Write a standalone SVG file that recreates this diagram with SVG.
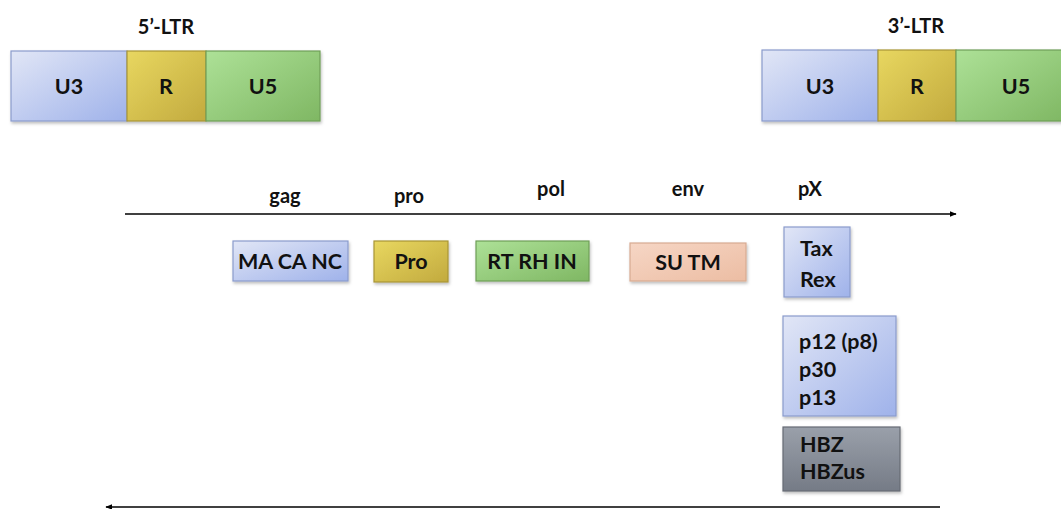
<svg xmlns="http://www.w3.org/2000/svg" width="1061" height="509" viewBox="0 0 1061 509">
<defs>
<linearGradient id="gBlue" x1="0" y1="0" x2="1" y2="1"><stop offset="0" stop-color="#e1e6f6"/><stop offset="1" stop-color="#9fb2ea"/></linearGradient>
<linearGradient id="gYel" x1="0" y1="0" x2="1" y2="1"><stop offset="0" stop-color="#e8d760"/><stop offset="1" stop-color="#c2aa3e"/></linearGradient>
<linearGradient id="gGrn" x1="0" y1="0" x2="1" y2="1"><stop offset="0" stop-color="#ade197"/><stop offset="1" stop-color="#7fb763"/></linearGradient>
<linearGradient id="gPeach" x1="0" y1="0" x2="1" y2="1"><stop offset="0" stop-color="#f6d6c5"/><stop offset="1" stop-color="#ecbda3"/></linearGradient>
<linearGradient id="gGray" x1="0" y1="0" x2="0" y2="1"><stop offset="0" stop-color="#9aa0aa"/><stop offset="1" stop-color="#757b86"/></linearGradient>
<marker id="arr" viewBox="0 0 10 10" refX="9" refY="5" markerWidth="7" markerHeight="7" orient="auto-start-reverse" markerUnits="userSpaceOnUse"><path d="M0,1 L10,5 L0,9 z" fill="#000"/></marker>
<filter id="sh" x="-10%" y="-10%" width="125%" height="130%"><feDropShadow dx="1" dy="2" stdDeviation="1.5" flood-color="#000" flood-opacity="0.25"/></filter>
</defs>
<style>
text{font-family:Lato,"Open Sans","Liberation Sans",sans-serif;font-weight:bold;fill:#111;font-size:21.5px}
.lbl{font-size:20px}
.b{stroke-width:1.2}
.blue{fill:url(#gBlue);stroke:#8a9bcc}
.yel{fill:url(#gYel);stroke:#a89536}
.grn{fill:url(#gGrn);stroke:#6f9e58}
.peach{fill:url(#gPeach);stroke:#d8ab92}
.gray{fill:url(#gGray);stroke:#666b74}
.line{stroke:#000;stroke-width:1.6;fill:none}
</style>

<g id="ltr5">
<text x="166" y="34" text-anchor="middle" class="lbl">5’-LTR</text>
<g filter="url(#sh)">
<rect x="11" y="51" width="116" height="70" class="blue b"/>
<rect x="127" y="51" width="79" height="70" class="yel b"/>
<rect x="206" y="51" width="114" height="70" class="grn b"/>
</g>
<text x="69" y="94" text-anchor="middle">U3</text>
<text x="166" y="94" text-anchor="middle">R</text>
<text x="263" y="94" text-anchor="middle">U5</text>
</g>

<g id="ltr3">
<text x="916" y="33" text-anchor="middle" class="lbl">3’-LTR</text>
<g filter="url(#sh)">
<rect x="762" y="50" width="116" height="71" class="blue b"/>
<rect x="878" y="50" width="78" height="71" class="yel b"/>
<rect x="956" y="50" width="110" height="71" class="grn b"/>
</g>
<text x="820" y="94" text-anchor="middle">U3</text>
<text x="917" y="94" text-anchor="middle">R</text>
<text x="1016" y="94" text-anchor="middle">U5</text>
</g>

<g id="connectors">
<line x1="125" y1="214" x2="956" y2="214" class="line" marker-end="url(#arr)"/>
<line x1="940" y1="507" x2="106" y2="507" class="line" marker-end="url(#arr)"/>
</g>

<g id="gene-labels">
<text x="285" y="203" text-anchor="middle" class="lbl">gag</text>
<text x="409" y="203" text-anchor="middle" class="lbl">pro</text>
<text x="551" y="196" text-anchor="middle" class="lbl">pol</text>
<text x="688" y="196" text-anchor="middle" class="lbl">env</text>
<text x="810" y="196" text-anchor="middle" class="lbl">pX</text>
</g>

<g id="gag">
<rect x="233" y="241" width="115" height="40" class="blue b" filter="url(#sh)"/>
<text x="290" y="269" text-anchor="middle">MA CA NC</text>
</g>
<g id="pro">
<rect x="374" y="241" width="74" height="41" class="yel b" filter="url(#sh)"/>
<text x="411" y="269" text-anchor="middle">Pro</text>
</g>
<g id="pol">
<rect x="476" y="241" width="113" height="40" class="grn b" filter="url(#sh)"/>
<text x="532" y="269" text-anchor="middle">RT RH IN</text>
</g>
<g id="env">
<rect x="630" y="243" width="116" height="38" class="peach b" filter="url(#sh)"/>
<text x="688" y="270" text-anchor="middle">SU TM</text>
</g>
<g id="taxrex">
<rect x="784" y="227" width="66" height="70" class="blue b" filter="url(#sh)"/>
<text x="800" y="256">Tax</text>
<text x="800" y="287">Rex</text>
</g>
<g id="p12">
<rect x="783" y="316" width="113" height="100" class="blue b" filter="url(#sh)"/>
<text x="799" y="349">p12 (p8)</text>
<text x="799" y="377">p30</text>
<text x="799" y="405">p13</text>
</g>
<g id="hbz">
<rect x="783" y="427" width="117" height="64" class="gray b" filter="url(#sh)"/>
<text x="800" y="452">HBZ</text>
<text x="800" y="479">HBZus</text>
</g>
</svg>
